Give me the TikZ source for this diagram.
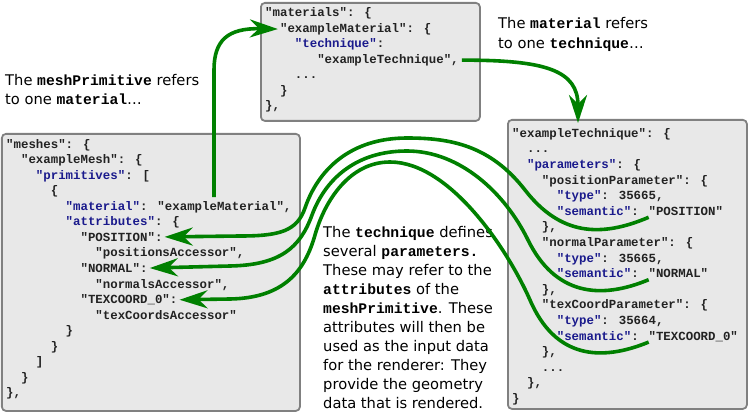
\documentclass[tikz,border=0pt]{standalone}
\usepackage{fontspec}
\setmainfont{DejaVu Sans}
\newfontfamily\codefont{Liberation Mono}
\usetikzlibrary{arrows.meta}
\definecolor{boxfill}{RGB}{232,232,232}
\definecolor{boxline}{RGB}{128,128,128}
\definecolor{keyblue}{RGB}{26,26,140}
\definecolor{codetext}{RGB}{34,34,34}
\definecolor{linkgreen}{RGB}{0,128,0}
\newcommand{\jkey}[1]{\textcolor{keyblue}{#1}}
\newcommand{\tcode}[1]{{\codefont\bfseries #1}}
\tikzset{
  codebox/.style={draw=boxline, fill=boxfill, line width=1.8pt, rounded corners=4pt, anchor=north west, inner sep=0pt},
  code/.style={anchor=base west, inner sep=0pt, text=codetext, font=\codefont\bfseries\fontsize{12.4}{15.6}\selectfont},
  prose/.style={anchor=base west, inner sep=0pt, font=\fontsize{14.7}{19.4}\selectfont},
  link/.style={draw=linkgreen, line width=3.6pt, -{Stealth[length=28pt,width=18pt,inset=9pt]}},
}
\begin{document}
\begin{tikzpicture}[x=1pt,y=-1pt]
\useasboundingbox (0,0) rectangle (748,412);
% Boxes
\node[codebox, minimum width=298pt, minimum height=277pt] (meshBox) at (1,133) {};
\node[codebox, minimum width=219pt, minimum height=118pt] (matBox) at (260,2) {};
\node[codebox, minimum width=239pt, minimum height=289pt] (techBox) at (507,119) {};
% Code lines: indent in characters / text
\foreach \ind/\txt [count=\i from 0] in {0/{"meshes": \{}, 2/{"exampleMesh": \{}, 4/{\jkey{"primitives"}: [}, 6/{\{},
  8/{\jkey{"material"}: "exampleMaterial",}, 8/{\jkey{"attributes"}: \{}, 10/{"POSITION":}, 12/{"positionsAccessor",},
  10/{"NORMAL":}, 12/{"normalsAccessor",}, 10/{"TEXCOORD\_0":}, 12/{"texCoordsAccessor"},
  8/{\}}, 6/{\}}, 4/{]}, 2/{\}}, 0/{\},}}
  \node[code] (mesh\i) at ({6+7.44*\ind},{148+15.56*\i}) {\txt};
\foreach \ind/\txt [count=\i from 0] in {0/{"materials": \{}, 2/{"exampleMaterial": \{}, 4/{\jkey{"technique"}:},
  7/{"exampleTechnique",}, 4/{...}, 2/{\}}, 0/{\},}}
  \node[code] (mat\i) at ({265+7.44*\ind},{16.7+15.55*\i}) {\txt};
\foreach \ind/\txt [count=\i from 0] in {0/{"exampleTechnique": \{}, 2/{...}, 2/{\jkey{"parameters"}: \{},
  4/{"positionParameter": \{}, 6/{\jkey{"type"}: 35665,}, 6/{\jkey{"semantic"}: "POSITION"}, 4/{\},},
  4/{"normalParameter": \{}, 6/{\jkey{"type"}: 35665,}, 6/{\jkey{"semantic"}: "NORMAL"}, 4/{\},},
  4/{"texCoordParameter": \{}, 6/{\jkey{"type"}: 35664,}, 6/{\jkey{"semantic"}: "TEXCOORD\_0"}, 4/{\},},
  4/{...}, 2/{\},}, 0/{\}}}
  \node[code] (tech\i) at ({512+7.44*\ind},{137.3+15.6*\i}) {\txt};
% Notes
\node[prose] (primNote) at (5,85) {The \tcode{meshPrimitive} refers};
\node[prose] (primNoteB) at (5,104.4) {to one \tcode{material}…};
\node[prose] (matNote) at (498,29) {The \tcode{material} refers};
\node[prose] (matNoteB) at (498,48.4) {to one \tcode{technique}…};
\foreach \txt [count=\i from 0] in {{The \tcode{technique} defines}, {several \tcode{parameters.}},
  {These may refer to the}, {\tcode{attributes} of the}, {\tcode{meshPrimitive}. These},
  {attributes will then be}, {used as the input data}, {for the renderer: They},
  {provide the geometry}, {data that is rendered.}}
  \node[prose] (techNote\i) at (323,{237+19*\i}) {\txt};
% Link ends
\coordinate (matTop) at ([xshift=148.5pt,yshift=4pt]mesh4.north west);
\coordinate (matName) at ([xshift=-2pt]mat1.west);
\coordinate (techRef) at ([xshift=3pt]mat3.east);
\coordinate (techTop) at ([xshift=71pt,yshift=-4pt]techBox.north west);
\coordinate (semPos) at ([xshift=92pt,yshift=-2pt]tech5.base west);
\coordinate (semNorm) at ([xshift=92pt,yshift=-2pt]tech9.base west);
\coordinate (semTex) at ([xshift=92pt,yshift=-2pt]tech13.base west);
% Links
\draw[link] (matTop) -- (214,70) .. controls (214,40) and (228,28) .. (matName);
\draw[link] (techRef) .. controls (545,60) and (578,70) .. (techTop);
\draw[link] (semPos) .. controls (600,238) and (560,235) .. (525,190) .. controls (490,145) and (450,138) .. (407,138)
  .. controls (350,138) and (318,170) .. (305,208) .. controls (297,231) and (280,236) .. (240,236) -- ([xshift=2pt]mesh6.east);
\draw[link] (semNorm) .. controls (600,300) and (555,295) .. (528,240) .. controls (505,193) and (460,151) .. (407,151)
  .. controls (355,151) and (325,180) .. (312,215) .. controls (300,248) and (280,265) .. (230,266) -- ([xshift=2pt]mesh8.east);
\draw[link] (semTex) .. controls (600,362) and (555,358) .. (530,300) .. controls (508,250) and (450,162) .. (390,162)
  .. controls (350,162) and (325,200) .. (315,235) .. controls (305,270) and (285,298) .. (230,299) -- ([xshift=2pt]mesh10.east);
\end{tikzpicture}
\end{document}
